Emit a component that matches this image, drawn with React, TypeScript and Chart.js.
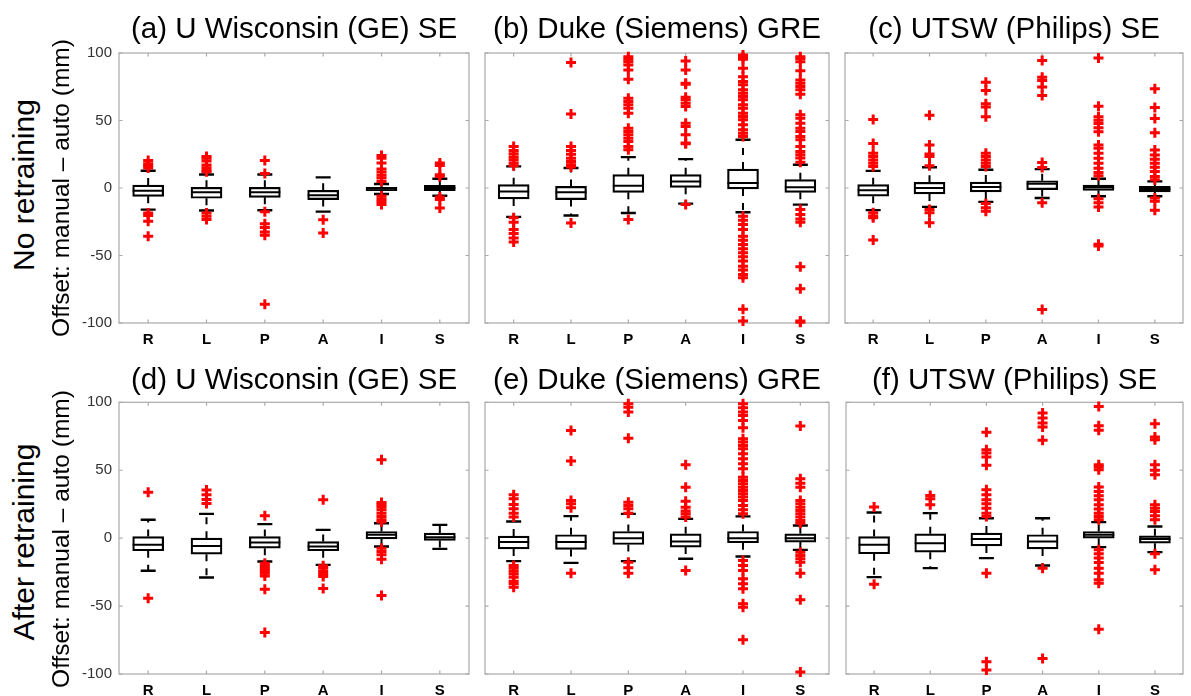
import React, { useEffect, useRef } from 'react';
import { Chart, registerables } from 'chart.js';

Chart.register(...registerables);

const FONT = '"Liberation Sans", Arial, Helvetica, sans-serif';

// ---------- data ----------
const CATEGORIES = ['R', 'L', 'P', 'A', 'I', 'S'];
const Y_TICKS = [-100, -50, 0, 50, 100];

const TITLES = [
  '(a) U Wisconsin (GE) SE',
  '(b) Duke (Siemens) GRE',
  '(c) UTSW (Philips) SE',
  '(d) U Wisconsin (GE) SE',
  '(e) Duke (Siemens) GRE',
  '(f) UTSW (Philips) SE',
];
const ROW_LABELS = ['No retraining', 'After retraining'];
const Y_LABEL = 'Offset: manual \u2013 auto (mm)';

// (a) U Wisconsin, no retraining
const A_Q1 = [-6.2, -7.6, -6.9, -8.6, -2, -2];
const A_MED = [-2, -3.2, -3.2, -5.4, -0.5, 0];
const A_Q3 = [2.2, 0.5, 0.5, -1.7, 0.5, 2];
const A_LO = [-16, -16.7, -16.5, -17.5, -4.4, -5.7];
const A_HI = [12.8, 10, 10, 7.9, 3, 6.9];
const A_OUT = [
  [20.4, 18, 16.7, 14.8, -18.5, -20.4, -24.6, -35.7],
  [23.4, 22, 20, 17, 15, 13, 12, -18.5, -21, -23.4],
  [20.4, 10.8, -17.5, -26.4, -29.3, -32.5, -35, -86.2],
  [-23.6, -33.3],
  [24, 22, 18.5, 14, 11.8, 9.4, 7.4, 4.9, -6, -8, -10, -12.3],
  [18.5, 16.7, 9.9, 8.6, -6.7, -8.6, -14.8],
];

// (b) Duke, no retraining
const B_Q1 = [-8.1, -8.6, -3.2, 0.5, -0.7, -3.2];
const B_MED = [-2.5, -3.2, 1.7, 4.9, 3.7, 0.5];
const B_Q3 = [2.5, 1.2, 9.9, 9.9, 14, 6.2];
const B_LO = [-21.4, -20.4, -18.5, -11.6, -18, -12.3];
const B_HI = [16, 14.8, 22.9, 21.4, 35.7, 17.2];
const B_OUT = [
  [30.8, 27.8, 25.4, 22.9, 21, 18.5, 16.5, -22, -25.4, -30.8, -33.7, -37, -40],
  [92.9, 54.9, 30.8, 27.8, 25, 22, 19.7, 17.2, 15.5, -25.9],
  [97.3, 95.3, 93.6, 91.1, 87.4, 80.5, 66.5, 64, 61.6, 59, 55.4, 44.3, 41.9, 39.4, 36.9, 34.5, 30.8, 28.3, -23.4],
  [94, 87.4, 77.6, 76.8, 67.2, 65.3, 62.8, 60.3, 48, 45.6, 39.4, 33.3, 32.8, -12.3],
  [98.5, 96.8, 95.3, 88.7, 82.5, 78.8, 76.4, 72.7, 70.2, 67.7, 65.3, 61.6, 59.1, 55.4, 53, 50.5, 46.8, 43.1, 40.6, 38.2,
    -20.9, -23.9, -27, -30.8, -35.7, -38.7, -41.9, -45, -48, -51, -54, -57.9, -60.8, -64, -66.5, -89.9, -98.5],
  [97.3, 96, 93.6, 86.9, 80, 77.6, 75.1, 72.7, 69.5, 54.2, 51.7, 48, 44.3, 41.9, 38.2, 35.7, 30.8, 27, 24.6, 22.2, 19,
    -16, -19.7, -22.9, -25.4, -58.4, -74.6, -98.5, -99.5],
];

// (c) UTSW, no retraining
const C_Q1 = [-6.1, -4.4, -2.9, -1.2, -1.7, -2.9];
const C_MED = [-1.7, 0, 0.7, 3.2, 0.5, -0.7];
const C_Q3 = [2.5, 4.2, 4.4, 5.4, 2.2, 1.2];
const C_LO = [-16.4, -14, -10.3, -7.4, -6.1, -6.1];
const C_HI = [12.7, 15.4, 13.5, 14, 6.9, 4.9];
const C_OUT = [
  [50.7, 33, 25.7, 23.3, 20.8, 18.4, 16, -18.4, -20.8, -22, -38.5],
  [53.9, 31.9, 25.2, 23.3, 16.4, -15.9, -18.4, -25.7],
  [78.4, 72.3, 62.5, 60, 52.7, 25.7, 23.3, 20.8, 18.4, 16, -11.5, -14.7, -17.2],
  [94.4, 82.1, 79.7, 74.8, 68.6, 18.9, 15.2, -11, -90],
  [96.3, 60.5, 52.7, 50.2, 47.8, 44.6, 41.7, 31.9, 29.4, 25.7, 22, 18.4, 14.7, 11.5, 9, -8, -11, -14, -41.7, -42.9],
  [73.5, 59.6, 51.5, 40.9, 28.2, 24.5, 21.3, 18.4, 15.4, 12.3, 8.6, 6.1, -7.4, -9.8, -16.4],
];

// (d) U Wisconsin, after retraining
const D_Q1 = [-9.3, -11.8, -7.4, -9.3, -0.5, -1.7];
const D_MED = [-4.9, -5.7, -3.2, -6.1, 2.5, 0.7];
const D_Q3 = [1.2, 0, 1.2, -2.5, 4.9, 3.7];
const D_LO = [-24, -29, -17.2, -19.7, -6.1, -7.9];
const D_HI = [13.5, 17.9, 10.3, 6.1, 11, 9.8];
const D_OUT = [
  [33.7, -44.2],
  [35.5, 32, 28.5, 25.5],
  [16.5, -18.4, -20.4, -22.1, -23.8, -25.8, -27.8, -37.6, -69.5],
  [28.3, -20.4, -22.1, -24.6, -26.3, -28.3, -37.1],
  [57.7, 26.3, 24.6, 22.9, 20.9, 18.4, 16, 13.5, 11.8, -7.4, -9.8, -12.3, -15.5, -42.3],
  [],
];

// (e) Duke, after retraining
const E_Q1 = [-7.9, -8.3, -4.7, -6.6, -3.4, -2.9];
const E_MED = [-2.9, -2.9, 0, -2.5, 0, 0];
const E_Q3 = [1.5, 2.5, 4.9, 3.2, 4.9, 3.2];
const E_LO = [-16.9, -18.2, -16.9, -15.2, -13.5, -8.6];
const E_HI = [12.3, 16.2, 17.9, 14.2, 16, 9.3];
const E_OUT = [
  [31.9, 29, 24.8, 21.6, 18.4, 15.5, -20.1, -22.1, -24.3, -26.3, -28.7, -31.7, -33.6, -36.1],
  [79.3, 56.7, 27.7, 25.3, 22.3, -25.8],
  [98.9, 96.4, 92.8, 73.6, 26.5, 24, 21.6, 18.4, -17.7, -21.8, -25.8],
  [54, 37.5, 27.2, 22.8, 19.9, 17.9, 15.5, -23.8],
  [98.9, 96, 92.8, 90.3, 86.6, 81.2, 73.1, 70.7, 68.2, 65.8, 62.1, 58.4, 54.7, 51, 44.9, 42.5, 40, 37.5, 35.1, 32.6,
    30.2, 27.7, 24, 20.9, 17.9, -16.4, -20.1, -23.8, -29.9, -33.6, -37.3, -48.3, -50.8, -74.8],
  [82.5, 43.7, 40.5, 37.5, 27.7, 25.3, 22.8, 20.4, 17.9, 15.5, 13, 11, -10.3, -12.8, -15.2, -17.7, -25.8, -45.4, -98.6],
];

// (f) UTSW, after retraining
const F_Q1 = [-11.5, -10.3, -5.7, -7.9, 0, -3.7];
const F_MED = [-4.9, -3.7, -0.7, -2.5, 2.5, -0.7];
const F_Q3 = [1.2, 3.2, 3.7, 2.5, 4.9, 1.7];
const F_LO = [-28.7, -22.1, -14.7, -20.1, -6.6, -10.3];
const F_HI = [18.9, 18.4, 14.7, 14.7, 11.8, 8.6];
const F_OUT = [
  [22.9, -33.9],
  [31.4, 29, 24.6],
  [77.9, 65.1, 62.7, 59.7, 53.6, 35.6, 31.9, 28.3, 25.3, 22.1, 18.4, 16, -25.8, -90.9, -97],
  [92.1, 88.5, 84.8, 81.8, 72, -22.1, -88.5],
  [97, 82.8, 79.4, 54, 52.3, 50.4, 37.6, 34.4, 31.2, 28.3, 24.6, 21.4, 18.4, 16, 13.5,
    -8.6, -11.5, -14.7, -17.9, -22.1, -25.8, -30.7, -33.2, -67.1],
  [84.3, 74.4, 72.5, 54, 49.9, 46.7, 24.6, 22.1, 19.7, 16.5, 13.5, -11.5, -23.3],
];

// ---------- layout ----------
type Panel = {
  title: string; q1: number[]; med: number[]; q3: number[]; lo: number[]; hi: number[]; out: number[][];
  cl: number; ct: number; cw: number; ch: number;
  pl: number; pt: number; pr: number; pb: number; titleY: number; showY: boolean;
};

const TOP = { ct: 0, ch: 352, pt: 53, pb: 323, titleY: 30 };
const BOT = { ct: 352, ch: 344, pt: 402.3, pb: 674, titleY: 381 };

const PANELS: Panel[] = [
  { title: TITLES[0], q1: A_Q1, med: A_MED, q3: A_Q3, lo: A_LO, hi: A_HI, out: A_OUT, cl: 64, cw: 413, pl: 119, pr: 471, showY: true, ...TOP },
  { title: TITLES[1], q1: B_Q1, med: B_MED, q3: B_Q3, lo: B_LO, hi: B_HI, out: B_OUT, cl: 477, cw: 360, pl: 481, pr: 829, showY: false, ...TOP },
  { title: TITLES[2], q1: C_Q1, med: C_MED, q3: C_Q3, lo: C_LO, hi: C_HI, out: C_OUT, cl: 837, cw: 354, pl: 844, pr: 1190, showY: false, ...TOP },
  { title: TITLES[3], q1: D_Q1, med: D_MED, q3: D_Q3, lo: D_LO, hi: D_HI, out: D_OUT, cl: 64, cw: 413, pl: 119, pr: 472, showY: true, ...BOT },
  { title: TITLES[4], q1: E_Q1, med: E_MED, q3: E_Q3, lo: E_LO, hi: E_HI, out: E_OUT, cl: 477, cw: 360, pl: 483, pr: 830, showY: false, ...BOT },
  { title: TITLES[5], q1: F_Q1, med: F_MED, q3: F_Q3, lo: F_LO, hi: F_HI, out: F_OUT, cl: 837, cw: 354, pl: 846, pr: 1190, showY: false, ...BOT },
];

const TITLE_SIZE = 29.5;
const TITLE_LH = 1.2;
const BOX_W = 31;
const CAP_W = 15;
const FRAME = '#a9a9a9';

const framePlugin = {
  id: 'matlabFrame',
  beforeDatasetsDraw(chart: any) {
    const { ctx, chartArea: a } = chart;
    const x = chart.scales.x;
    const y = chart.scales.y;
    ctx.save();
    ctx.strokeStyle = FRAME;
    ctx.lineWidth = 1.2;
    ctx.strokeRect(a.left, a.top, a.right - a.left, a.bottom - a.top);
    ctx.beginPath();
    const tl = 3.5;
    CATEGORIES.forEach((_, i) => {
      const px = x.getPixelForValue(i);
      ctx.moveTo(px, a.top); ctx.lineTo(px, a.top + tl);
      ctx.moveTo(px, a.bottom); ctx.lineTo(px, a.bottom - tl);
    });
    Y_TICKS.forEach((v) => {
      const py = y.getPixelForValue(v);
      ctx.moveTo(a.left, py); ctx.lineTo(a.left + tl, py);
      ctx.moveTo(a.right, py); ctx.lineTo(a.right - tl, py);
    });
    ctx.stroke();
    ctx.restore();
  },
};

function boxPlugin(p: Panel) {
  return {
    id: 'boxParts',
    beforeDatasetsDraw(chart: any) {
      const { ctx } = chart;
      const x = chart.scales.x;
      const y = chart.scales.y;
      ctx.save();
      ctx.strokeStyle = '#000';
      CATEGORIES.forEach((_, i) => {
        const px = x.getPixelForValue(i);
        // dashed whiskers
        ctx.lineWidth = 2;
        ctx.setLineDash([7, 7]);
        ctx.beginPath();
        ctx.moveTo(px, y.getPixelForValue(p.q3[i]));
        ctx.lineTo(px, y.getPixelForValue(p.hi[i]));
        ctx.moveTo(px, y.getPixelForValue(p.q1[i]));
        ctx.lineTo(px, y.getPixelForValue(p.lo[i]));
        ctx.stroke();
        // caps
        ctx.setLineDash([]);
        ctx.lineWidth = 2.4;
        ctx.beginPath();
        const yh = y.getPixelForValue(p.hi[i]);
        const yl = y.getPixelForValue(p.lo[i]);
        ctx.moveTo(px - CAP_W / 2, yh); ctx.lineTo(px + CAP_W / 2, yh);
        ctx.moveTo(px - CAP_W / 2, yl); ctx.lineTo(px + CAP_W / 2, yl);
        ctx.stroke();
      });
      ctx.restore();
    },
    afterDatasetDraw(chart: any, args: any) {
      if (args.meta.type !== 'bar') return;
      const { ctx } = chart;
      const x = chart.scales.x;
      const y = chart.scales.y;
      ctx.save();
      ctx.strokeStyle = '#000';
      ctx.lineWidth = 2;
      ctx.beginPath();
      CATEGORIES.forEach((_, i) => {
        const px = x.getPixelForValue(i);
        const py = y.getPixelForValue(p.med[i]);
        ctx.moveTo(px - BOX_W / 2, py); ctx.lineTo(px + BOX_W / 2, py);
      });
      ctx.stroke();
      ctx.restore();
    },
  };
}

function PanelChart({ p }: { p: Panel }) {
  const ref = useRef<HTMLCanvasElement>(null);
  useEffect(() => {
    if (!ref.current) return;
    const outliers: { x: string; y: number }[] = [];
    p.out.forEach((arr, i) => arr.forEach((v) => outliers.push({ x: CATEGORIES[i], y: v })));
    const yW = p.pl - p.cl;
    const padR = p.cl + p.cw - p.pr;
    const xH = p.ct + p.ch - p.pb;
    const block = p.pt - p.ct;
    const lh = TITLE_SIZE * TITLE_LH;
    const tTop = p.titleY - p.ct - lh / 2;
    const tBot = block - tTop - lh;
    const chart = new Chart(ref.current, {
      type: 'bar',
      data: {
        labels: CATEGORIES,
        datasets: [
          {
            type: 'scatter',
            data: outliers as any,
            pointStyle: 'cross',
            pointRadius: 5,
            pointBorderWidth: 3,
            borderColor: '#ff0000',
            backgroundColor: '#ff0000',
            showLine: false,
            order: 0,
            clip: false,
          } as any,
          {
            type: 'bar',
            data: p.q1.map((v, i) => [v, p.q3[i]]) as any,
            backgroundColor: '#ffffff',
            borderColor: '#000000',
            borderWidth: 2.2,
            borderSkipped: false,
            barThickness: BOX_W,
            order: 1,
          } as any,
        ],
      },
      options: {
        animation: false,
        responsive: false,
        maintainAspectRatio: false,
        events: [],
        layout: { padding: { left: 0, right: padR, top: 0, bottom: 0 } },
        plugins: {
          legend: { display: false },
          tooltip: { enabled: false },
          title: {
            display: true,
            text: p.title,
            fullSize: false,
            color: '#000',
            font: { family: FONT, size: TITLE_SIZE, weight: 'normal', lineHeight: TITLE_LH },
            padding: { top: tTop, bottom: tBot },
          },
        },
        scales: {
          x: {
            type: 'category',
            offset: true,
            grid: { display: false, drawTicks: false },
            border: { display: false },
            ticks: { font: { family: FONT, size: 15, weight: 'bold' }, color: '#000', padding: 8, maxRotation: 0, autoSkip: false },
            afterFit: (s: any) => { s.height = xH; },
          },
          y: {
            type: 'linear',
            min: -100,
            max: 100,
            afterBuildTicks: (s: any) => { s.ticks = Y_TICKS.map((v) => ({ value: v })); },
            grid: { display: false, drawTicks: false },
            border: { display: false },
            ticks: { display: p.showY, font: { family: FONT, size: 15 }, color: '#333', padding: 7 },
            afterFit: (s: any) => { s.width = yW; },
          },
        },
      } as any,
      plugins: [framePlugin, boxPlugin(p)],
    });
    return () => chart.destroy();
  }, [p]);
  return (
    <canvas
      ref={ref}
      width={p.cw}
      height={p.ch}
      style={{ position: 'absolute', left: p.cl, top: p.ct, width: p.cw, height: p.ch }}
    />
  );
}

function VLabel({ text, cx, cy, size }: { text: string; cx: number; cy: number; size: number }) {
  return (
    <div
      style={{
        position: 'absolute',
        left: cx,
        top: cy,
        transform: 'translate(-50%, -50%) rotate(-90deg)',
        whiteSpace: 'nowrap',
        fontFamily: FONT,
        fontSize: size,
        lineHeight: 1,
        color: '#000',
      }}
    >
      {text}
    </div>
  );
}

export default function App() {
  return (
    <div style={{ position: 'fixed', left: 0, top: 0, width: 1191, height: 696, background: '#fff', overflow: 'hidden' }}>
      {PANELS.map((p, i) => <PanelChart key={i} p={p} />)}
      <VLabel text={ROW_LABELS[0]} cx={24} cy={185} size={30} />
      <VLabel text={Y_LABEL} cx={61} cy={188} size={24.5} />
      <VLabel text={ROW_LABELS[1]} cx={24} cy={542} size={30} />
      <VLabel text={Y_LABEL} cx={61} cy={539} size={24.5} />
    </div>
  );
}
